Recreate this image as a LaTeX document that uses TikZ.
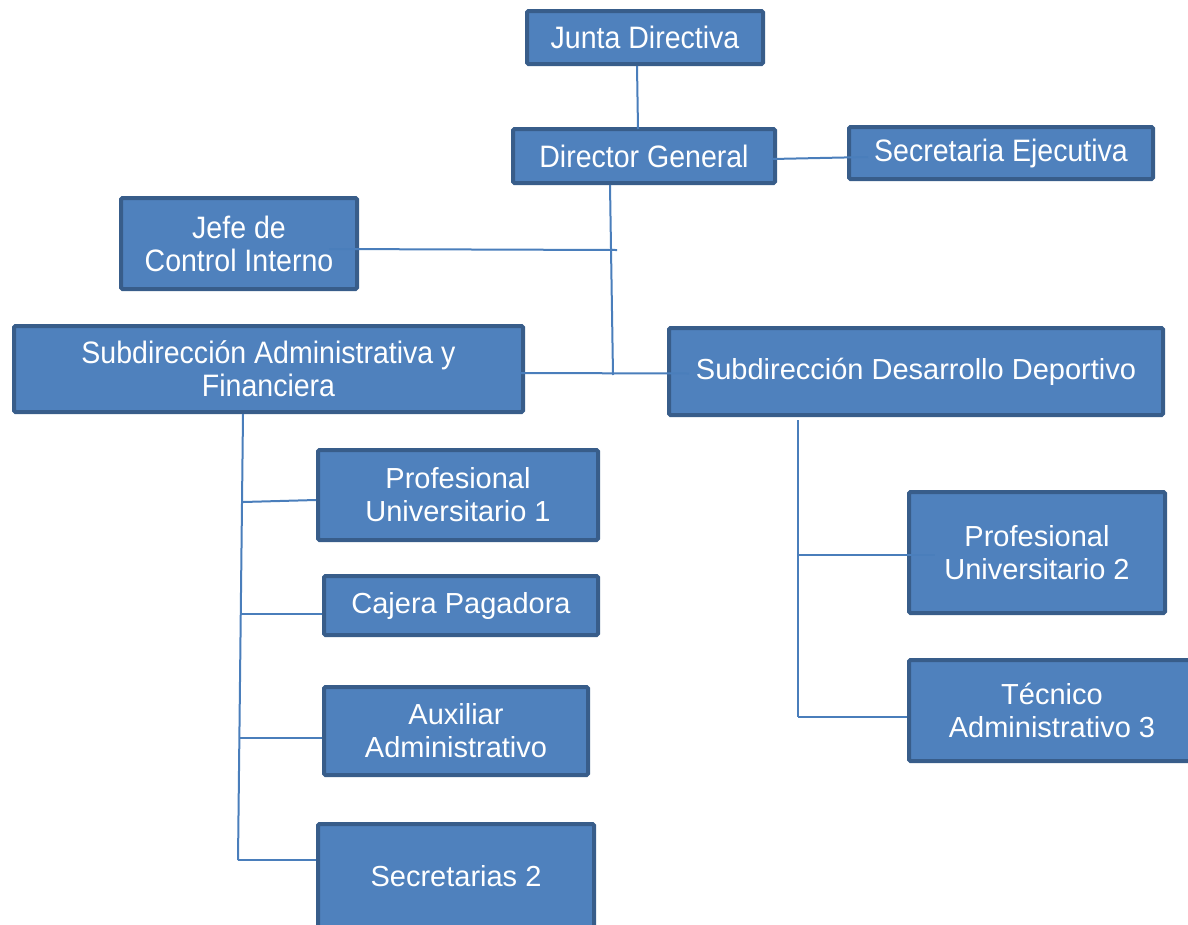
\documentclass[tikz,border=0pt]{standalone}
\usepackage{fontspec}
\setmainfont{Liberation Sans}
\newfontfamily\narrowfont[FakeStretch=0.92]{Liberation Sans}
\definecolor{boxfill}{RGB}{79,129,189}
\definecolor{boxline}{RGB}{56,93,138}
\definecolor{conn}{RGB}{74,126,187}
\begin{document}
\begin{tikzpicture}[x=1pt,y=-1pt,
  orgbox/.style={draw=boxline, line width=4pt, fill=boxfill, text=white,
    rounded corners=1.5pt, inner sep=0pt, align=center,
    font=\fontsize{29}{33}\selectfont},
  narrowbox/.style={orgbox, font=\narrowfont\fontsize{31}{33}\selectfont},
  link/.style={draw=conn, line width=2pt}]
\useasboundingbox (0,0) rectangle (1188,924);
\clip (0,0) rectangle (1188,924);
% boxes
\node[narrowbox, minimum width=236pt, minimum height=53pt] (jd) at (645,37.5) {Junta Directiva};
\node[narrowbox, minimum width=262pt, minimum height=54pt] (dg) at (644,156) {Director General};
\node[narrowbox, minimum width=304pt, minimum height=52pt] (se) at (1001,153) {Secretaria Ejecutiva};
\node[narrowbox, minimum width=236pt, minimum height=91pt] (jci) at (239,243.5) {Jefe de\\Control Interno};
\node[narrowbox, minimum width=509pt, minimum height=86pt] (saf) at (268.5,369) {Subdirección Administrativa y\\Financiera};
\node[orgbox, minimum width=494pt, minimum height=87pt] (sdd) at (916,371.5) {Subdirección Desarrollo Deportivo};
\node[orgbox, minimum width=280pt, minimum height=90pt] (pu1) at (458,495) {Profesional\\Universitario 1};
\node[orgbox, minimum width=274pt, minimum height=59pt] (cp) at (461,605.5) {Cajera Pagadora};
\node[orgbox, minimum width=264pt, minimum height=88pt] (aa) at (456,731) {Auxiliar\\Administrativo};
\node[orgbox, minimum width=276pt, minimum height=104pt] (s2) at (456,876) {Secretarias 2};
\node[orgbox, minimum width=256pt, minimum height=121pt] (pu2) at (1037,552.5) {Profesional\\Universitario 2};
\node[orgbox, minimum width=286pt, minimum height=101pt] (ta3) at (1052,710.5) {Técnico\\Administrativo 3};
% junction coordinates
\coordinate (ctop) at (610,185);
\coordinate (cmid) at (613,375);
\coordinate (cjef) at (617,250);
\coordinate (ltop) at (243,414);
\coordinate (lb1) at (243,502);
\coordinate (lb2) at (242,614);
\coordinate (lb3) at (240,738);
\coordinate (lb4) at (238,860);
\coordinate (rtop) at (798,420);
\coordinate (rb1) at (798,555);
\coordinate (rb2) at (798,717);
% connectors
\draw[link] ([shift={(-8,0)}]jd.south) -- ([shift={(-6,2)}]dg.north);
\draw[link] ([shift={(-5,3)}]dg.east) -- ([shift={(21,4)}]se.west);
\draw[link] (ctop) -- (cmid);
\draw[link] ([shift={(-30,5.5)}]jci.east) -- (cjef);
\draw[link] ([shift={(-5,4)}]saf.east) -- ([shift={(22,2)}]sdd.west);
\draw[link] (ltop) -- (lb4);
\draw[link] (lb1) -- ([shift={(0,5)}]pu1.west);
\draw[link] (lb2) -- ([shift={(0,8.5)}]cp.west);
\draw[link] (lb3) -- ([shift={(0,7)}]aa.west);
\draw[link] (lb4) -- ([shift={(0,-16)}]s2.west);
\draw[link] (rtop) -- (rb2);
\draw[link] (rb1) -- ([shift={(28,2.5)}]pu2.west);
\draw[link] (rb2) -- ([shift={(0,6.5)}]ta3.west);
\end{tikzpicture}
\end{document}
